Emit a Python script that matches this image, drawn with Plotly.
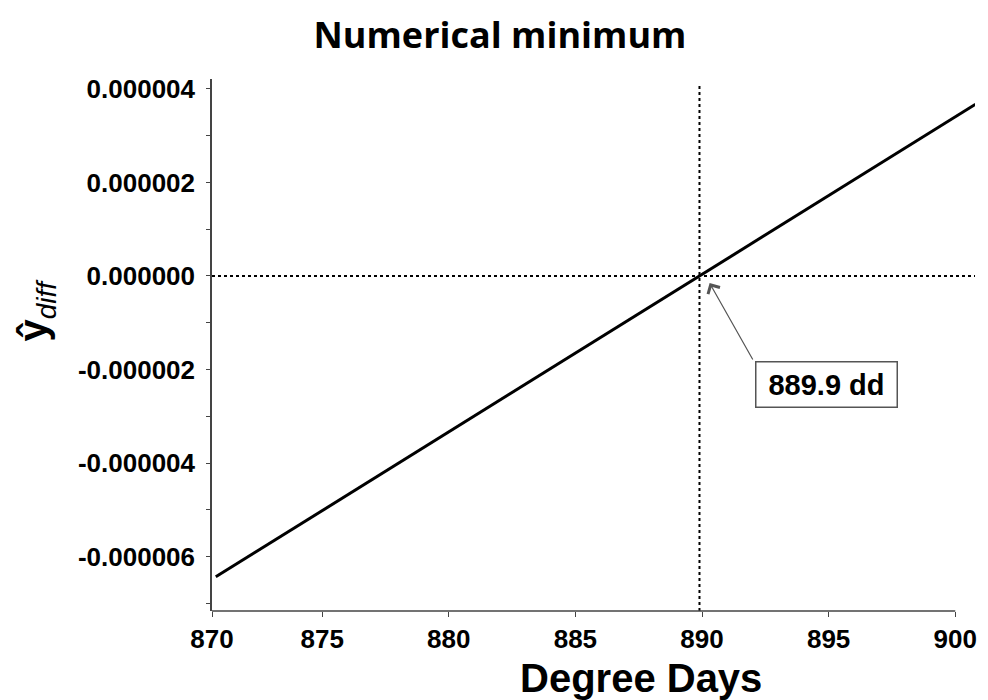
import plotly.graph_objects as go

# ---- data ----
degree_days = [870.8, 880.0, 889.9, 900.0, 900.8]
y_diff = [-6.43e-6, -3.33e-6, 0.0, 3.40e-6, 3.67e-6]

x_tick_vals = [870.65, 875, 880, 885, 890, 895, 900]
x_tick_text = ["870", "875", "880", "885", "890", "895", "900"]
y_tick_vals = [-6e-6, -4e-6, -2e-6, 0.0, 2e-6, 4e-6]
y_tick_text = ["-0.000006", "-0.000004", "-0.000002", "0.000000", "0.000002", "0.000004"]
y_minor_vals = [-7e-6, -5e-6, -3e-6, -1e-6, 1e-6, 3e-6]

minimum_x = 889.9
minimum_label = "889.9 dd"

x_range = [870.65, 900.78]
y_range = [-7.16e-6, 4.21e-6]

FONT = "Liberation Sans, Arial, sans-serif"

# page body has an 8px margin, so the figure is 8px smaller in each direction
W, H = 980, 692

fig = go.Figure()
fig.add_trace(go.Scatter(
    x=degree_days, y=y_diff, mode="lines",
    line=dict(color="black", width=3), showlegend=False, hoverinfo="skip",
))

# dotted reference lines
fig.add_shape(type="line", xref="x", yref="y", x0=x_range[0], x1=x_range[1], y0=0, y1=0,
              line=dict(color="black", width=2, dash="dot"), layer="below")
fig.add_shape(type="line", xref="x", yref="paper", x0=minimum_x, x1=minimum_x, y0=0, y1=0.99,
              line=dict(color="black", width=2, dash="dot"), layer="below")
# x axis line (ends at 900)
fig.add_shape(type="line", xref="x", yref="paper", x0=x_range[0], x1=900, y0=0, y1=0,
              line=dict(color="#444444", width=1.5))

# arrow
fig.add_annotation(x=890.3, y=-1.5e-7, xref="x", yref="y", ax=44, ay=78,
                   text="", showarrow=True, arrowhead=4, arrowsize=2.2,
                   arrowwidth=1.2, arrowcolor="#555555")
# box label
fig.add_annotation(x=894.9, y=-2.31e-6, xref="x", yref="y", showarrow=False,
                   xanchor="center", yanchor="middle",
                   text="<b>" + minimum_label + "</b>",
                   font=dict(family=FONT, size=29, color="black"),
                   bordercolor="#555555", borderwidth=1.5, borderpad=4,
                   bgcolor="white", width=132, height=36)

# axis titles as annotations
fig.add_annotation(x=(642 - 212) / 765, y=(611 - 678) / 532, xref="paper", yref="paper",
                   xanchor="center", yanchor="middle",
                   showarrow=False, text="<b>Degree Days</b>",
                   font=dict(family=FONT, size=40, color="black"))
fig.add_annotation(x=(36 - 212) / 765, y=(611 - 310) / 532, xref="paper", yref="paper",
                   xanchor="center", yanchor="middle",
                   showarrow=False, textangle=-90,
                   text="<b>ŷ</b><sub><i>diff</i></sub>",
                   font=dict(family=FONT, size=40, color="black"))

fig.update_layout(
    width=W, height=H,
    margin=dict(l=204, r=11, t=71, b=89),
    paper_bgcolor="white", plot_bgcolor="white",
    title=dict(text="<b>Numerical minimum</b>", x=492 / W, xanchor="center",
               y=1 - 27 / H, yanchor="middle", yref="container",
               font=dict(family="Open Sans, sans-serif", size=36, color="black")),
    xaxis=dict(range=x_range, showgrid=False, zeroline=False, showline=False,
               tickmode="array", tickvals=x_tick_vals, ticktext=x_tick_text,
               ticks="outside", ticklen=5, tickwidth=1.2, tickcolor="#444444",
               tickfont=dict(family=FONT, size=26, color="black", weight="bold")),
    yaxis=dict(range=y_range, showgrid=False, zeroline=False, showline=True,
               linecolor="#444444", linewidth=1.5,
               tickmode="array", tickvals=y_tick_vals, ticktext=y_tick_text,
               ticks="outside", ticklen=4, tickwidth=1.2, tickcolor="#444444",
               ticklabelstandoff=6,
               minor=dict(tickmode="array", tickvals=y_minor_vals,
                          ticks="outside", ticklen=4, tickwidth=1, tickcolor="#444444"),
               tickfont=dict(family=FONT, size=26, color="black", weight="bold")),
)

fig.write_html("out.html")
